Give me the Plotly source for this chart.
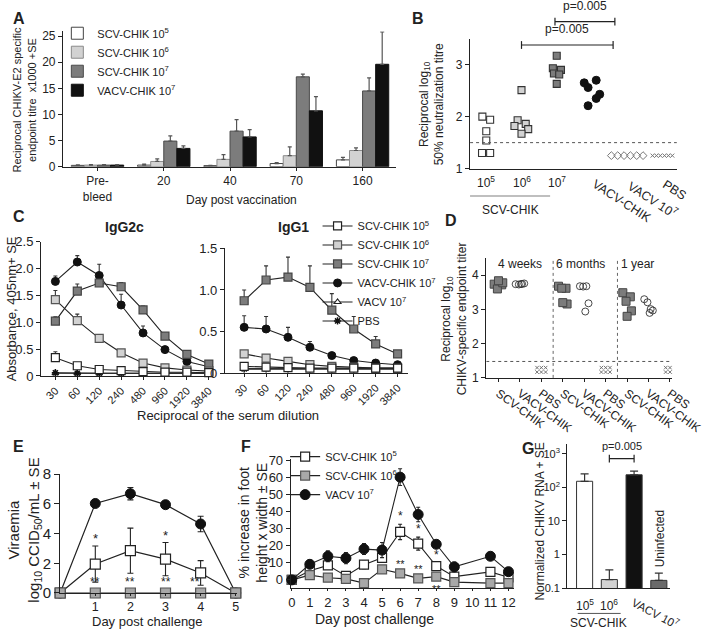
import plotly.graph_objects as go

W, H = 726, 637
FONT = "Liberation Sans, Arial, Helvetica, sans-serif"
INK = "#222222"

# ---------------- DATA ----------------
# Panel A: anti-E2 ELISA titres (x1000)
a_groups = ["Pre-<br>bleed", "20", "40", "70", "160"]
a_names = ["SCV-CHIK 10<sup>5</sup>", "SCV-CHIK 10<sup>6</sup>",
           "SCV-CHIK 10<sup>7</sup>", "VACV-CHIK 10<sup>7</sup>"]
a_scv5 = [0.25, 0.30, 0.20, 0.60, 1.30]
a_scv5_se = [0.10, 0.20, 0.05, 0.20, 0.50]
a_scv6 = [0.30, 1.00, 1.40, 2.10, 3.10]
a_scv6_se = [0.10, 0.50, 0.90, 1.70, 0.50]
a_scv7 = [0.30, 4.90, 6.80, 17.20, 14.50]
a_scv7_se = [0.10, 1.00, 2.20, 0.50, 2.50]
a_vacv = [0.30, 3.50, 5.70, 10.70, 19.60]
a_vacv_se = [0.10, 0.50, 1.40, 2.70, 6.20]

# Panel B: log10 50% neutralisation titres, individual mice
b_groups = ["10<sup>5</sup>", "10<sup>6</sup>", "10<sup>7</sup>", "VACV-CHIK", "VACV 10<sup>7</sup>", "PBS"]
b_scv5 = [2.00, 1.94, 1.72, 1.54, 1.30, 1.30]
b_scv6 = [2.51, 1.93, 1.86, 1.82, 1.76, 1.67]
b_scv7 = [3.17, 2.93, 2.90, 2.83, 2.81, 2.63]
b_vacvchik = [2.65, 2.70, 2.56, 2.43, 2.35, 2.21]
b_vacv = [1.25, 1.25, 1.25, 1.25, 1.25, 1.25]
b_pbs = [1.25, 1.25, 1.25, 1.25, 1.25, 1.25]
b_limit = 1.5

# Panel C: ELISA absorbance vs dilution
c_dil = ["30", "60", "120", "240", "480", "960", "1920", "3840"]
c_names = ["SCV-CHIK 10<sup>5</sup>", "SCV-CHIK 10<sup>6</sup>", "SCV-CHIK 10<sup>7</sup>",
           "VACV-CHIK 10<sup>7</sup>", "VACV 10<sup>7</sup>", "PBS"]
g2c_scv5 = [0.34, 0.19, 0.12, 0.10, 0.08, 0.07, 0.07, 0.06]
g2c_scv5_se = [0.11, 0.03, 0.02, 0.01, 0.01, 0.01, 0.01, 0.01]
g2c_scv6 = [1.42, 1.03, 0.70, 0.43, 0.24, 0.15, 0.11, 0.09]
g2c_scv6_se = [0.17, 0.12, 0.05, 0.02, 0.02, 0.01, 0.01, 0.01]
g2c_scv7 = [1.02, 1.58, 1.73, 1.66, 1.23, 0.74, 0.40, 0.22]
g2c_scv7_se = [0.08, 0.13, 0.03, 0.08, 0.07, 0.02, 0.02, 0.01]
g2c_vacvchik = [1.76, 2.12, 1.87, 1.32, 0.80, 0.49, 0.27, 0.17]
g2c_vacvchik_se = [0.10, 0.12, 0.21, 0.20, 0.13, 0.04, 0.02, 0.01]
g2c_vacv = [0.05, 0.05, 0.05, 0.05, 0.05, 0.05, 0.05, 0.05]
g2c_pbs = [0.06, 0.05, 0.05, 0.05, 0.05, 0.05, 0.05, 0.05]
g1_scv5 = [0.08, 0.07, 0.065, 0.06, 0.06, 0.06, 0.06, 0.06]
g1_scv5_se = [0.02, 0.01, 0.01, 0.01, 0.01, 0.01, 0.01, 0.01]
g1_scv6 = [0.23, 0.18, 0.14, 0.10, 0.08, 0.07, 0.06, 0.06]
g1_scv6_se = [0.01, 0.01, 0.01, 0.01, 0.01, 0.01, 0.01, 0.01]
g1_scv7 = [0.87, 1.12, 1.155, 1.03, 0.756, 0.53, 0.35, 0.23]
g1_scv7_se = [0.13, 0.17, 0.24, 0.26, 0.20, 0.15, 0.09, 0.01]
g1_vacvchik = [0.55, 0.53, 0.43, 0.31, 0.21, 0.15, 0.12, 0.10]
g1_vacvchik_se = [0.14, 0.15, 0.12, 0.07, 0.03, 0.01, 0.01, 0.01]
g1_vacv = [0.05, 0.05, 0.05, 0.05, 0.05, 0.05, 0.05, 0.05]
g1_pbs = [0.05, 0.05, 0.05, 0.05, 0.05, 0.05, 0.05, 0.05]

# Panel D: log10 endpoint titres over time
d_ticks = ["SCV-CHIK", "VACV-CHIK", "PBS"] * 3
d_times = ["4 weeks", "6 months", "1 year"]
d_scv = [[3.74, 3.72, 3.60, 3.78, 3.84],
         [3.68, 3.62, 3.62, 3.16, 3.20],
         [3.49, 3.37, 3.24, 2.96, 2.80]]
d_vacvchik = [[3.74, 3.73, 3.75, 3.76, 3.74],
              [3.68, 3.67, 3.68, 3.18, 2.94],
              [3.30, 3.21, 3.01, 2.97, 2.90]]
d_pbs = [[1.30, 1.30, 1.30, 1.17, 1.17, 1.17],
         [1.30, 1.30, 1.30, 1.17, 1.17, 1.17],
         [1.30, 1.30, 1.30, 1.17, 1.17, 1.17]]
d_limit = 1.48

# Panel E: viraemia
e_days = [0, 1, 2, 3, 4, 5]
e_vacv = [0, 6.03, 6.69, 5.95, 4.65, 0]
e_vacv_se = [0, 0.12, 0.42, 0.12, 0.52, 0]
e_scv5 = [0, 1.95, 2.85, 2.28, 1.35, 0]
e_scv5_se = [0, 1.22, 1.52, 1.12, 0.83, 0]
e_scv6 = [0, 0, 0, 0, 0, 0]
e_star1 = [1, 3]            # "*"  SCV 10^5
e_star2 = [1, 2, 3, 4]      # "**" SCV 10^6

# Panel F: foot swelling
f_names = ["SCV-CHIK 10<sup>5</sup>", "SCV-CHIK 10<sup>6</sup>", "VACV 10<sup>7</sup>"]
f_days = [0, 1, 2, 3, 4, 5, 6, 7, 8, 9, 11, 12]
f_vacv = [0, 9.1, 13.8, 12.7, 18.0, 17.4, 60.0, 38.2, 20.8, 7.6, 13.8, 4.8]
f_vacv_se = [0, 2.3, 3.2, 3.3, 3.2, 4.4, 4.9, 4.2, 1.9, 2.8, 2.2, 2.4]
f_scv5 = [0, 5.3, 8.5, 2.3, 8.9, 12.9, 28.0, 21.2, 8.1, 1.9, 4.7, 1.5]
f_scv5_se = [0, 1.2, 1.5, 1.0, 2.4, 1.5, 4.5, 3.8, 1.5, 0.8, 1.5, 1.0]
f_scv6 = [0, 2.8, 1.3, 0.6, -1.9, 6.2, 3.8, 0.9, 1.9, -1.3, -1.9, -1.9]
f_scv6_se = [0, 0.9, 0.8, 0.8, 0.8, 1.4, 1.3, 1.4, 1.3, 1.0, 1.5, 1.2]
f_star1 = [6, 7, 8]         # "*" above SCV 10^5
f_star2 = [6, 7, 8]         # "**" SCV 10^6

# Panel G: CHIKV RNA
g_groups = ["10<sup>5</sup>", "10<sup>6</sup>", "VACV 10<sup>7</sup>", "Uninfected"]
g_vals = [152, 0.18, 237, 0.17]
g_se = [101, 0.17, 70, 0.11]

# ---------------- STYLE HELPERS ----------------
WHITE, LIGHT, DARK, BLACK = "#ffffff", "#d2d2d2", "#7c7c7c", "#111111"


def xd(a, b):
    return [a / W, b / W]


def yd(top, bottom):
    return [1 - bottom / H, 1 - top / H]


def px(x):
    return x / W


def py(y):
    return 1 - y / H


def tf(size):
    return dict(size=size, color=INK, family=FONT)


def axis(domain, anchor, **kw):
    base = dict(domain=domain, anchor=anchor, showline=True, linecolor=INK, linewidth=1.3,
                ticks="outside", ticklen=4, tickwidth=1.1, tickcolor=INK, showgrid=False,
                zeroline=False, tickfont=tf(11))
    base.update(kw)
    return base


fig = go.Figure()
ann = []
shapes = []


def text(x, y, s, size=11, xref="paper", yref="paper", xa="center", ya="middle", angle=0, bold=False,
         color=INK, **kw):
    if bold:
        s = "<b>" + s + "</b>"
    ann.append(dict(x=x, y=y, xref=xref, yref=yref, text=s, showarrow=False, xanchor=xa, yanchor=ya,
                    textangle=angle, font=dict(size=size, color=color, family=FONT), **kw))


# ---------------- PANEL A ----------------
a_fill = [WHITE, LIGHT, DARK, BLACK]
a_line = ["#444444", "#8a8a8a", "#4a4a4a", "#111111"]
for name, vals, se, fc, lc in zip(a_names, [a_scv5, a_scv6, a_scv7, a_vacv],
                                  [a_scv5_se, a_scv6_se, a_scv7_se, a_vacv_se], a_fill, a_line):
    fig.add_trace(go.Bar(x=a_groups, y=vals, name=name, xaxis="x", yaxis="y", legend="legend",
                         marker=dict(color=fc, line=dict(color=lc, width=1)),
                         error_y=dict(type="data", array=se, arrayminus=[0] * len(se), symmetric=False,
                                      color="#555555", thickness=1.2, width=2)))

# ---------------- PANEL B ----------------
B_JIT = {
    0: [-0.11, 0.11, 0.0, 0.0, -0.12, 0.11],
    1: [0.0, -0.11, 0.12, -0.20, 0.19, 0.0],
    2: [0.0, -0.11, 0.12, -0.08, 0.07, 0.0],
    3: [-0.22, 0.12, -0.11, 0.22, 0.12, -0.11],
    4: [-0.45, -0.27, -0.09, 0.09, 0.27, 0.45],
    5: [-0.28, -0.17, -0.06, 0.06, 0.17, 0.28],
}
b_style = [
    dict(symbol="square", size=7, color=WHITE, line=dict(color="#333", width=1.1)),
    dict(symbol="square", size=7, color=LIGHT, line=dict(color="#333", width=1.1)),
    dict(symbol="square", size=7, color=DARK, line=dict(color="#333", width=1.1)),
    dict(symbol="circle", size=8, color=BLACK, line=dict(color=BLACK, width=1)),
    dict(symbol="diamond-open", size=6, color="#777", line=dict(color="#777", width=1)),
    dict(symbol="x-thin", size=4, color="#777", line=dict(color="#777", width=1)),
]
for i, vals in enumerate([b_scv5, b_scv6, b_scv7, b_vacvchik, b_vacv, b_pbs]):
    fig.add_trace(go.Scatter(x=[i + j for j in B_JIT[i]], y=vals, mode="markers", xaxis="x2", yaxis="y2",
                             marker=b_style[i], showlegend=False,
                             name=b_groups[i].replace("<sup>", "").replace("</sup>", ""),
                             cliponaxis=False))
shapes.append(dict(type="line", xref="x2", yref="y2", x0=-0.46, x1=5.41, y0=b_limit, y1=b_limit,
                   line=dict(color="#555", width=1, dash="dot")))

# ---------------- PANEL C ----------------
c_sty = [
    dict(symbol="square", size=8, color=WHITE, line=dict(color="#222", width=1.2)),
    dict(symbol="square", size=8, color=LIGHT, line=dict(color="#555", width=1.2)),
    dict(symbol="square", size=8, color=DARK, line=dict(color="#444", width=1.2)),
    dict(symbol="circle", size=8, color=BLACK, line=dict(color=BLACK, width=1)),
    dict(symbol="triangle-up", size=6, color=WHITE, line=dict(color="#222", width=1.1)),
    dict(symbol="asterisk-open", size=6, color=BLACK, line=dict(color=BLACK, width=1.5)),
]
g2c_sets = [(g2c_scv5, g2c_scv5_se), (g2c_scv6, g2c_scv6_se), (g2c_scv7, g2c_scv7_se),
            (g2c_vacvchik, g2c_vacvchik_se), (g2c_vacv, None), (g2c_pbs, None)]
g1_sets = [(g1_scv5, g1_scv5_se), (g1_scv6, g1_scv6_se), (g1_scv7, g1_scv7_se),
           (g1_vacvchik, g1_vacvchik_se), (g1_vacv, None), (g1_pbs, None)]
for k in [4, 5, 3, 2, 1, 0]:
    for sets, xa, ya, show in [(g2c_sets, "x3", "y3", True), (g1_sets, "x4", "y4", False)]:
        vals, se = sets[k]
        err = None
        if se is not None:
            err = dict(type="data", array=se, arrayminus=[0] * len(se), symmetric=False,
                       color="#333", thickness=1.1, width=2)
        fig.add_trace(go.Scatter(x=c_dil, y=vals, mode="lines+markers", name=c_names[k], xaxis=xa, yaxis=ya,
                                 line=dict(color="#222", width=1.1), marker=c_sty[k], error_y=err,
                                 showlegend=show, legend="legend2", legendrank=k + 1, cliponaxis=False))

# ---------------- PANEL D ----------------
D_JIT_SQ = [-0.2, 0.15, -0.05, 0.2, 0.0]
D_JIT_CI = [-0.2, -0.05, 0.1, 0.2, 0.05]
D_JIT_X = [-0.2, 0.0, 0.2, -0.2, 0.0, 0.2]
for g in range(3):
    fig.add_trace(go.Scatter(x=[3 * g + j for j in D_JIT_SQ], y=d_scv[g], mode="markers", xaxis="x5",
                             yaxis="y5", showlegend=False, name="SCV-CHIK " + d_times[g],
                             marker=dict(symbol="square", size=8, color=DARK, line=dict(color="#444", width=1))))
    fig.add_trace(go.Scatter(x=[3 * g + 1 + j for j in D_JIT_CI], y=d_vacvchik[g], mode="markers", xaxis="x5",
                             yaxis="y5", showlegend=False, name="VACV-CHIK " + d_times[g],
                             marker=dict(symbol="circle-open", size=7, color="#333", line=dict(width=0.9))))
    fig.add_trace(go.Scatter(x=[3 * g + 2 + j for j in D_JIT_X], y=d_pbs[g], mode="markers", xaxis="x5",
                             yaxis="y5", showlegend=False, name="PBS " + d_times[g],
                             marker=dict(symbol="x-thin", size=3.5, color="#666", line=dict(color="#666", width=0.9))))
D_RANGE = [-0.57, 8.1]
D_DIV = [2.55, 5.55]
shapes.append(dict(type="line", xref="x5", yref="y5", x0=D_RANGE[0], x1=D_RANGE[1], y0=d_limit, y1=d_limit,
                   line=dict(color="#555", width=1, dash="dot")))
for xb in D_DIV:
    shapes.append(dict(type="line", xref="x5", yref="y5", x0=xb, x1=xb, y0=1, y1=4.5,
                       line=dict(color="#666", width=1, dash="dot")))

# ---------------- PANEL E ----------------
e_sets = [("VACV 10<sup>7</sup>", e_vacv, e_vacv_se,
           dict(symbol="circle", size=10, color=BLACK, line=dict(color=BLACK, width=1))),
          ("SCV-CHIK 10<sup>5</sup>", e_scv5, e_scv5_se,
           dict(symbol="square", size=10, color=WHITE, line=dict(color="#222", width=1.2))),
          ("SCV-CHIK 10<sup>6</sup>", e_scv6, None,
           dict(symbol="square", size=10, color="#a8a8a8", line=dict(color="#555", width=1.2)))]
for name, vals, se, mk in e_sets:
    err = None
    if se is not None:
        err = dict(type="data", array=se, color="#222", thickness=1.1, width=3)
    fig.add_trace(go.Scatter(x=e_days, y=vals, mode="lines+markers", name=name, xaxis="x6", yaxis="y6",
                             line=dict(color="#222", width=1.2), marker=mk, error_y=err, showlegend=False,
                             cliponaxis=False))
for d in e_star1:
    i = e_days.index(d)
    text(d, e_scv5[i] + e_scv5_se[i], "*", size=13, xref="x6", yref="y6", ya="bottom", yshift=-2)
for d in e_star2:
    i = e_days.index(d)
    text(d, e_scv6[i], "**", size=12, xref="x6", yref="y6", ya="bottom", yshift=2,
         xshift=(-6 if d == 4 else 0))

# ---------------- PANEL F ----------------
f_sets = [(f_names[0], f_scv5, f_scv5_se,
           dict(symbol="square", size=9, color=WHITE, line=dict(color="#222", width=1.2))),
          (f_names[1], f_scv6, f_scv6_se,
           dict(symbol="square", size=9, color="#a8a8a8", line=dict(color="#555", width=1.2))),
          (f_names[2], f_vacv, f_vacv_se,
           dict(symbol="circle", size=10, color=BLACK, line=dict(color=BLACK, width=1)))]
for rank, (name, vals, se, mk) in zip([1, 2, 3], f_sets):
    fig.add_trace(go.Scatter(x=f_days, y=vals, mode="lines+markers", name=name, xaxis="x7", yaxis="y7",
                             line=dict(color="#222", width=1.1), marker=mk, legend="legend3", legendrank=rank,
                             error_y=dict(type="data", array=se, color="#222", thickness=1.1, width=2),
                             cliponaxis=False))
for d in f_star1:
    i = f_days.index(d)
    text(d, f_scv5[i] + f_scv5_se[i], "*", size=12, xref="x7", yref="y7", ya="bottom", yshift=-1)
for d in f_star2:
    i = f_days.index(d)
    if d == 8:
        text(d, f_scv6[i], "**", size=11, xref="x7", yref="y7", ya="top", yshift=-4)
    else:
        text(d, f_scv6[i] + f_scv6_se[i], "**", size=11, xref="x7", yref="y7", ya="bottom", yshift=-1)

# ---------------- PANEL G ----------------
fig.add_trace(go.Bar(x=g_groups, y=g_vals, xaxis="x8", yaxis="y8", showlegend=False, width=0.65,
                     name="CHIKV RNA",
                     marker=dict(color=[WHITE, LIGHT, BLACK, "#6a6a6a"], line=dict(color="#333", width=1)),
                     error_y=dict(type="data", array=g_se, arrayminus=[0, 0, 0, 0], symmetric=False,
                                  color="#333", thickness=1.2, width=4)))

# ---------------- AXES ----------------
lay = dict(
    xaxis=axis(xd(63, 412), "y", type="category", range=[-0.52, 4.5], tickfont=tf(12), ticklen=3),
    yaxis=axis(yd(23, 162), "x", range=[0, 25.9], tickvals=[0, 5, 10, 15, 20, 25], tickfont=tf(12)),
    xaxis2=axis(xd(490, 707), "y2", range=[-0.46, 5.41], ticks="", showticklabels=False),
    yaxis2=axis(yd(31, 164), "x2", range=[1, 3.49], tickvals=[1, 2, 3], tickfont=tf(12)),
    xaxis3=axis(xd(40, 218), "y3", type="category", range=[-0.65, 7.09], tickangle=-45, ticklen=3),
    yaxis3=axis(yd(239, 377), "x3", range=[0, 2.5], tickvals=[0, 0.5, 1, 1.5, 2, 2.5],
                ticktext=["0", "0.5", "1.0", "1.5", "2.0", "2.5"], tickfont=tf(13)),
    xaxis4=axis(xd(233, 425), "y4", type="category", range=[-0.87, 7.48], tickangle=-45, ticklen=3),
    yaxis4=axis(yd(246, 374), "x4", range=[0, 1.5], tickvals=[0, 0.5, 1, 1.5],
                ticktext=["0", "0.5", "1.0", "1.5"], tickfont=tf(13)),
    xaxis5=axis(xd(507, 702), "y5", range=D_RANGE, tickvals=list(range(9)), ticktext=d_ticks,
                tickangle=36, ticklen=3, tickfont=tf(12)),
    yaxis5=axis(yd(256, 379), "x5", range=[1, 4.5], tickvals=[1, 2, 3, 4], tickfont=tf(12)),
    xaxis6=axis(xd(60, 246), "y6", range=[0, 5.05], tickvals=[1, 2, 3, 4, 5], ticklen=2, tickfont=tf(12.5)),
    yaxis6=axis(yd(478, 600), "x6", range=[0, 8], tickvals=[0, 2, 4, 6, 8], ticklen=5, tickfont=tf(15)),
    xaxis7=axis(xd(302, 536), "y7", range=[-0.05, 12.3], tickvals=list(range(13)), ticklen=2, tickfont=tf(13)),
    yaxis7=axis(yd(462, 595), "x7", range=[-4.8, 70.8], tickvals=[0, 10, 20, 30, 40, 50, 60, 70], tickfont=tf(13)),
    xaxis8=axis(xd(592, 700), "y8", type="category", range=[-0.7, 3.46], ticks="", showticklabels=False),
    yaxis8=axis(yd(447, 595), "x8", type="log", range=[-1, 3.29], tickvals=[0.1, 1, 10, 100, 1000],
                ticktext=["0.1", "1", "10", "10<sup>2</sup>", "10<sup>3</sup>"], tickfont=tf(11)),
)

# ---------------- TEXT / ANNOTATIONS ----------------
for L, x, y in [("A", 8, 10), ("B", 427, 10), ("C", 8, 213), ("D", 462, 217), ("E", 8, 450),
                ("F", 248, 450), ("G", 542, 452)]:
    text(px(x), py(y), L, size=16, bold=True, xa="left", ya="middle")

# Panel A titles
text(px(22), py(93), "Reciprocal CHIKV-E2 specific<br>endpoint titre  x1000 +SE", size=11, angle=-90)
text(px(250), py(196), "Day post vaccination", size=12)

# Panel B
text(px(450), py(98), "Reciprocal log<sub>10</sub><br>50% neutralization titre", size=12, angle=-90)
for i in [0, 1, 2]:
    text(i, py(178), b_groups[i], size=12, xref="x2")
for i in [3, 4, 5]:
    text(i - 0.15, py(170), b_groups[i], size=12.5, xref="x2", xa="left", ya="top", angle=33)
shapes.append(dict(type="line", xref="paper", yref="paper", x0=px(490), x1=px(574), y0=py(192), y1=py(192),
                   line=dict(color="#aaaaaa", width=1.5)))
text(px(532), py(207), "SCV-CHIK", size=12)
for xa0, xa1, yb in [(1, 3.6, 37), (1.95, 3.65, 13)]:
    shapes.append(dict(type="line", xref="x2", yref="paper", x0=xa0, x1=xa1, y0=py(yb), y1=py(yb),
                       line=dict(color=INK, width=1.2)))
    for xe in (xa0, xa1):
        shapes.append(dict(type="line", xref="x2", yref="paper", x0=xe, x1=xe, y0=py(yb - 4), y1=py(yb + 4),
                           line=dict(color=INK, width=1.2)))
    text((xa0 + xa1) / 2, py(yb - 7), "p=0.005", size=12, xref="x2", ya="bottom")

# Panel C
text(px(127), py(224), "IgG2c", size=14, bold=True)
text(px(305), py(224), "IgG1", size=14, bold=True)
text(px(9), py(308), "Absorbance, 405nm+ SE", size=13, angle=-90)
text(px(236), py(418), "Reciprocal of the serum dilution", size=13)

# Panel D
text(px(473), py(318), "Reciprocal log<sub>10</sub><br>CHIKV-specific endpoint titer", size=12, angle=-90)
for x0, lab in [(-0.1, d_times[0]), (D_DIV[0] + 0.05, d_times[1]), (D_DIV[1] + 0.05, d_times[2])]:
    text(x0, 4.33, lab, size=12, xref="x5", yref="y5", xa="left")

# Panel E
text(px(23), py(535), "Viraemia<br>log<sub>10</sub> CCID<sub>50</sub>/mL ± SE", size=15, angle=-90)
text(px(152), py(629), "Day post challenge", size=13)

# Panel F
text(px(262), py(528), "% increase in foot<br>height x width ± SE", size=14, angle=-90)
text(px(390), py(627), "Day post challenge", size=14)

# Panel G
text(px(563), py(527), "Normalized CHIKV RNA + SE", size=12, angle=-90)
for i in [0, 1]:
    text(i, py(612), g_groups[i], size=12, xref="x8")
text(1.72, py(599), g_groups[2], size=11.5, xref="x8", xa="left", ya="top", angle=28)
text(3.08, py(544), g_groups[3], size=12, xref="x8", angle=-90)
shapes.append(dict(type="line", xref="paper", yref="paper", x0=px(603), x1=px(648), y0=py(621), y1=py(621),
                   line=dict(color="#555", width=1)))
text(px(625), py(631), "SCV-CHIK", size=12)
shapes.append(dict(type="line", xref="x8", yref="paper", x0=1, x1=2, y0=py(462), y1=py(462),
                   line=dict(color=INK, width=1.2)))
for xe in (1, 2):
    shapes.append(dict(type="line", xref="x8", yref="paper", x0=xe, x1=xe, y0=py(458), y1=py(466),
                       line=dict(color=INK, width=1.2)))
text(1.5, py(457), "p=0.005", size=11, xref="x8", ya="bottom")

fig.update_layout(
    width=W, height=H, margin=dict(l=0, r=0, t=0, b=0), paper_bgcolor="white", plot_bgcolor="white",
    font=dict(family=FONT, color=INK, size=11),
    barmode="group", bargap=0.21, bargroupgap=0.0,
    annotations=ann, shapes=shapes,
    legend=dict(x=px(57), y=py(10), xanchor="left", yanchor="top", font=tf(11), bgcolor="rgba(0,0,0,0)",
                itemwidth=30, tracegroupgap=0),
    legend2=dict(x=px(330), y=py(208), xanchor="left", yanchor="top", font=tf(11),
                 bgcolor="rgba(0,0,0,0)", itemwidth=30),
    legend3=dict(x=px(296), y=py(445), xanchor="left", yanchor="top", font=tf(11),
                 bgcolor="rgba(0,0,0,0)", itemwidth=30),
    **lay,
)

fig.write_html("out.html", config={"displayModeBar": False},
               post_script="document.body.style.margin='0';")
